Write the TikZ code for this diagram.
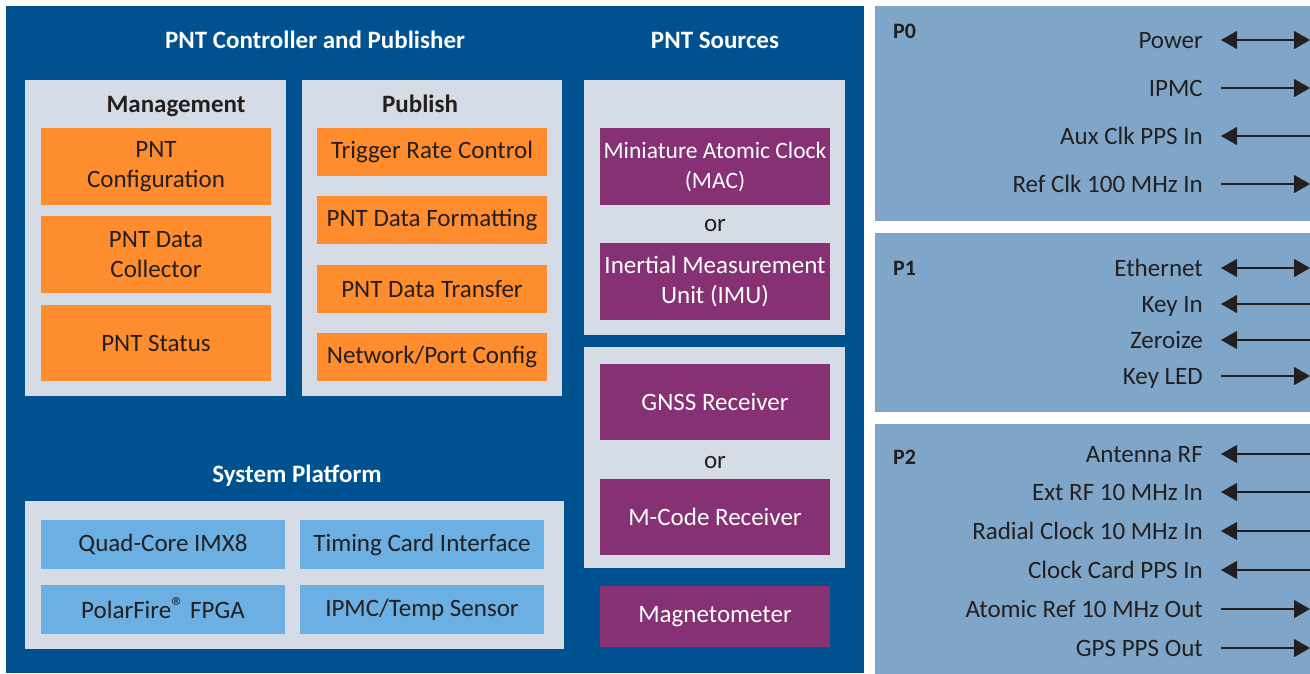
\documentclass[tikz,border=0pt]{standalone}
\usepackage{fontspec}
\setmainfont{Carlito}
\usetikzlibrary{arrows.meta}
\definecolor{dblue}{HTML}{005190}
\definecolor{lgrey}{HTML}{D5DCE5}
\definecolor{orng}{HTML}{FF8D2E}
\definecolor{purp}{HTML}{853174}
\definecolor{lblue}{HTML}{6CAFE2}
\definecolor{pnl}{HTML}{7FA6C8}
\definecolor{ink}{HTML}{231F20}
\newcommand\rbox[7]{%
  \pgfmathsetmacro\rbxcx{(#3+#5)/2}\pgfmathsetmacro\rbxcy{(#4+#6)/2}%
  \pgfmathsetmacro\rbxw{#5-#3}\pgfmathsetmacro\rbxh{#6-#4}%
  \node[#2, minimum width=\rbxw pt, minimum height=\rbxh pt] (#1) at (\rbxcx,\rbxcy) {#7};}
\newcommand\sig[4]{%
  \node[lbl] (#1) at (1203,#2) {#3};
  \coordinate (#1-e) at (1310,#2);
  \draw[sigline,#4] ([xshift=18pt]#1.east) -- (#1-e);}
\begin{document}
\begin{tikzpicture}[x=1pt,y=-1pt,
  area/.style={fill=#1, draw=none, inner sep=0pt},
  blk/.style={fill=#1, draw=none, inner sep=0pt, align=center,
    font=\fontsize{25}{30}\selectfont},
  obox/.style={blk=orng, text=ink},
  pbox/.style={blk=purp, text=white},
  bbox/.style={blk=lblue, text=ink},
  wtitle/.style={anchor=base, text=white, inner sep=0pt, font=\bfseries\fontsize{25}{28}\selectfont},
  ktitle/.style={anchor=base, text=ink, inner sep=0pt, font=\bfseries\fontsize{25}{28}\selectfont},
  ortext/.style={anchor=base, text=ink, inner sep=0pt, font=\fontsize{25}{28}\selectfont},
  lbl/.style={anchor=east, text=ink, inner sep=0pt, text height=16pt, text depth=0pt,
    font=\fontsize{25}{28}\selectfont},
  plbl/.style={anchor=base west, text=ink, inner sep=0pt,
    font=\bfseries\fontsize{22}{26}\selectfont},
  sigline/.style={draw=ink, line width=1.4pt},
  both/.style={{Triangle[length=16pt,width=18pt]}-{Triangle[length=16pt,width=18pt]}},
  inl/.style={{Triangle[length=16pt,width=18pt]}-},
  outr/.style={-{Triangle[length=16pt,width=18pt]}}]
\useasboundingbox (0,0) rectangle (1310,673);
\fill[white] (0,0) rectangle (1310,673);
\begin{scope}
\clip (0,0) rectangle (1310,673);
% main panels
\rbox{outer}{area=dblue}{6}{6}{864}{673}{}
\rbox{p0}{area=pnl}{875}{6}{1320}{221}{}
\rbox{p1}{area=pnl}{875}{233}{1320}{412}{}
\rbox{p2}{area=pnl}{875}{424}{1320}{680}{}
\end{scope}
% titles
\node[wtitle] (tctrl) at (315,48) {PNT Controller and Publisher};
\node[wtitle] (tsrc) at (715,48) {PNT Sources};
\node[wtitle] (tsys) at (297,482) {System Platform};
% grey containers
\rbox{mgmt}{area=lgrey}{25}{80}{286}{396}{}
\rbox{publ}{area=lgrey}{302}{80}{562}{396}{}
\rbox{src1}{area=lgrey}{584}{80}{845}{335}{}
\rbox{src2}{area=lgrey}{584}{347}{845}{568}{}
\rbox{sysp}{area=lgrey}{25}{501}{564}{649}{}
\node[ktitle] (tmgmt) at (176,112) {Management};
\node[ktitle] (tpub) at (420,112) {Publish};
% management
\rbox{cfg}{obox}{41}{128}{271}{205}{PNT\\Configuration}
\rbox{coll}{obox}{41}{216}{271}{293}{PNT Data\\Collector}
\rbox{stat}{obox}{41}{305}{271}{381}{PNT Status}
% publish
\rbox{trig}{obox}{317}{128}{547}{176}{Trigger Rate Control}
\rbox{fmt}{obox}{317}{196}{547}{244}{PNT Data Formatting}
\rbox{xfer}{obox}{317}{265}{547}{313}{PNT Data Transfer}
\rbox{net}{obox}{317}{333}{547}{381}{Network/Port Config}
% sources
\rbox{mac}{pbox, font=\fontsize{23.5}{30}\selectfont}{600}{128}{830}{205}{Miniature Atomic Clock\\(MAC)}
\node[ortext] (or1) at (715,231) {or};
\rbox{imu}{pbox}{600}{243}{830}{320}{Inertial Measurement\\Unit (IMU)}
\rbox{gnss}{pbox}{600}{364}{830}{440}{GNSS Receiver}
\node[ortext] (or2) at (715,468) {or};
\rbox{mcode}{pbox}{600}{479}{830}{555}{M-Code Receiver}
\rbox{mag}{pbox}{600}{586}{830}{647}{Magnetometer}
% system platform
\rbox{quad}{bbox}{41}{520}{285}{569}{Quad-Core IMX8}
\rbox{timc}{bbox}{300}{520}{544}{569}{Timing Card Interface}
\rbox{pfire}{bbox}{41}{585}{285}{634}{PolarFire\smash{\raisebox{3pt}{\fontsize{26}{26}\selectfont ®}} FPGA}
\rbox{ipmt}{bbox}{300}{585}{544}{634}{IPMC/Temp Sensor}
% connectors
\node[plbl] (lp0) at (893,38) {P0};
\sig{pow}{40}{Power}{both}
\sig{ipmc}{88}{IPMC}{outr}
\sig{aux}{136}{Aux Clk PPS In}{inl}
\sig{ref}{184}{Ref Clk 100 MHz In}{outr}
\node[plbl] (lp1) at (893,275) {P1};
\sig{eth}{268}{Ethernet}{both}
\sig{key}{304}{Key In}{inl}
\sig{zer}{340}{Zeroize}{inl}
\sig{led}{376}{Key LED}{outr}
\node[plbl] (lp2) at (893,464) {P2};
\sig{ant}{454}{Antenna RF}{inl}
\sig{ext}{492}{Ext RF 10 MHz In}{inl}
\sig{rad}{531}{Radial Clock 10 MHz In}{inl}
\sig{ccd}{570}{Clock Card PPS In}{inl}
\sig{atm}{609}{Atomic Ref 10 MHz Out}{outr}
\sig{gps}{648}{GPS PPS Out}{outr}
\end{tikzpicture}
\end{document}
